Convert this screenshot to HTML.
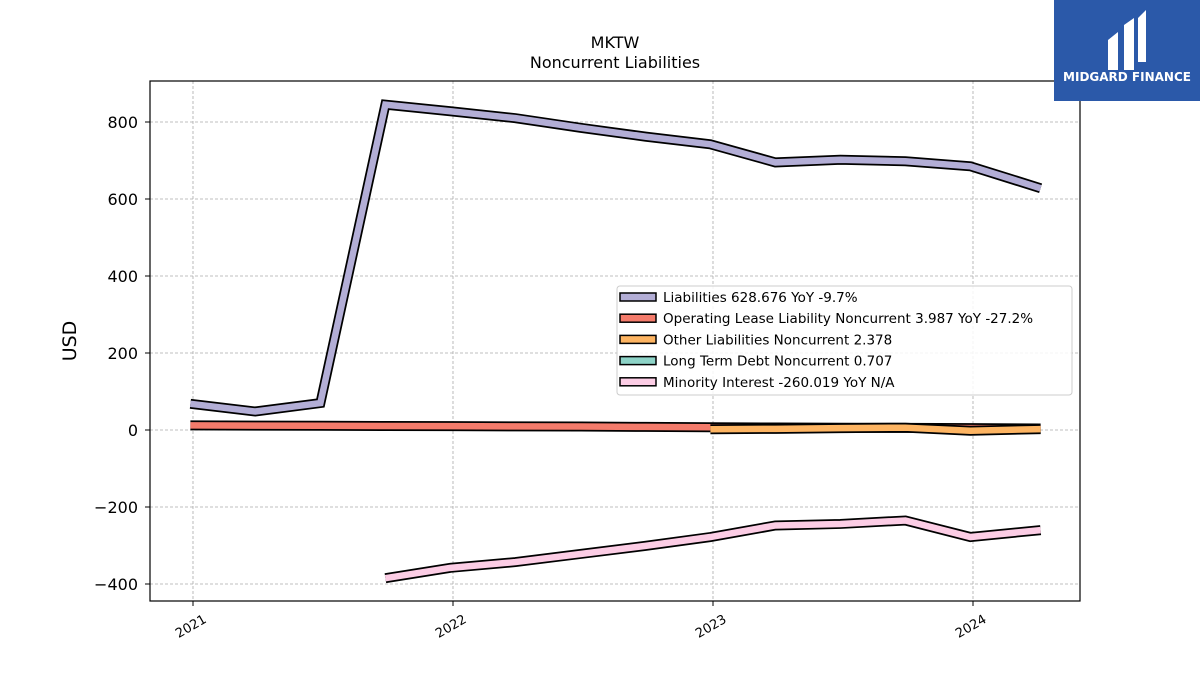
<!DOCTYPE html>
<html><head><meta charset="utf-8"><style>
body{margin:0;background:#fff;font-family:"Liberation Sans","DejaVu Sans",sans-serif}
svg text{font-family:"DejaVu Sans","Liberation Sans",sans-serif}
</style></head><body>
<svg id="chart" width="1200" height="675" xmlns="http://www.w3.org/2000/svg">
<rect width="1200" height="675" fill="#fff"/>
<text x="615" y="48" text-anchor="middle" font-size="16">MKTW</text>
<text x="615" y="68" text-anchor="middle" font-size="16">Noncurrent  Liabilities</text>
<g id="grid"></g>
<g id="series"></g>
<rect x="150" y="81" width="930" height="520" fill="none" stroke="#000" stroke-width="1.2"/>
<g id="axes"></g>
<text transform="translate(76,341) rotate(-90)" text-anchor="middle" font-size="19">USD</text>
<g id="legend"></g>
<g>
<rect x="1054" y="0" width="146" height="101" fill="#2b59a9"/>
<path d="M1108 70 V40 L1118 32 V70 Z M1124 70 V25 L1134 18 V70 Z M1138 62 V18 L1146 10 V62 Z" fill="#fff"/>
<text x="1127" y="81" text-anchor="middle" font-size="12" font-weight="bold" fill="#fff">MIDGARD FINANCE</text>
</g>
</svg>
<script>
const quarters=[2020.99,2021.24,2021.49,2021.74,2021.99,2022.24,2022.49,2022.74,2022.99,2023.24,2023.49,2023.74,2023.99,2024.26];
const liabilities=[68,48,70,845,828,810,785,762,742,695,702,698,685,628];
const opLease=[12,11.5,11,10.5,10,9.5,9,8,7,6.5,6,5.5,5,4];
const otherLiab=[null,null,null,null,null,null,null,null,2,3,5,6,-2,2.4];
const minority=[null,null,null,-385,-358,-343,-322,-301,-278,-248,-244,-235,-278,-260];
const yTicks=[-400,-200,0,200,400,600,800];
const yTickLabels=["\u2212400","\u2212200","0","200","400","600","800"];
const xTicks=[2021,2022,2023,2024];
const xTickLabels=["2021","2022","2023","2024"];
const X=v=>193+(v-2021)*260;
const Y=v=>430-v*0.385;
const NS="http://www.w3.org/2000/svg";
function mk(t,a,p){const e=document.createElementNS(NS,t);for(const k in a)e.setAttribute(k,a[k]);p.appendChild(e);return e;}
const grid=document.getElementById('grid'),axes=document.getElementById('axes'),ser=document.getElementById('series'),leg=document.getElementById('legend');
yTicks.forEach((v,i)=>{
 const g=mk('line',{x1:150,x2:1080,y1:Y(v),y2:Y(v),stroke:'#aaa','stroke-dasharray':'3,2','stroke-width':0.8},grid);
 
 
 mk('line',{x1:145,x2:150,y1:Y(v),y2:Y(v),stroke:'#000'},axes);
 const t=mk('text',{x:138,y:Y(v)+6,'text-anchor':'end','font-size':16},axes);t.textContent=yTickLabels[i];
 
 
});
xTicks.forEach((v,i)=>{
 const g=mk('line',{x1:X(v),x2:X(v),y1:81,y2:601,stroke:'#aaa','stroke-dasharray':'3,2','stroke-width':0.8},grid);
 
 
 mk('line',{x1:X(v),x2:X(v),y1:601,y2:606,stroke:'#000'},axes);
 const t=mk('text',{x:X(v),y:630,'text-anchor':'middle','font-size':13,transform:`rotate(-30 ${X(v)} 630)`},axes);t.textContent=xTickLabels[i];
 
 
});
function series(vals,color,name){
 let d='';vals.forEach((v,i)=>{if(v===null)return;d+=(d?'L':'M')+X(quarters[i])+' '+Y(v);});
 const g=mk('g',{},ser);
 
 
 mk('path',{d:d,fill:'none',stroke:'#000','stroke-width':10},g);
 mk('path',{d:d,fill:'none',stroke:color,'stroke-width':6.5},g);
}
series(liabilities,'#b3aed6','liabilities-line');
series(opLease,'#f47b6b','operating-lease-line');
series(otherLiab,'#fdb462','other-liabilities-line');
series(minority,'#fccde5','minority-interest-line');
const lr=mk('rect',{x:617,y:286,width:455,height:109,fill:'#fff','fill-opacity':0.85,stroke:'#ccc',rx:3},leg);


const legendLabels=["Liabilities  628.676 YoY -9.7%","Operating Lease Liability Noncurrent  3.987 YoY -27.2%","Other Liabilities Noncurrent  2.378","Long Term Debt Noncurrent  0.707","Minority Interest  -260.019 YoY N/A"];
const legendColors=['#b3aed6','#f47b6b','#fdb462','#8dd3c7','#fccde5'];
legendLabels.forEach((l,i)=>{
 const y=297+i*21.2;
 const g=mk('g',{},leg);
 
 
 mk('rect',{x:620,y:y-4,width:36,height:8,fill:legendColors[i],stroke:'#000','stroke-width':1.5},g);
 const t=mk('text',{x:663,y:y+5,'font-size':13.5},g);t.textContent=l;
});
</script>
</body></html>
